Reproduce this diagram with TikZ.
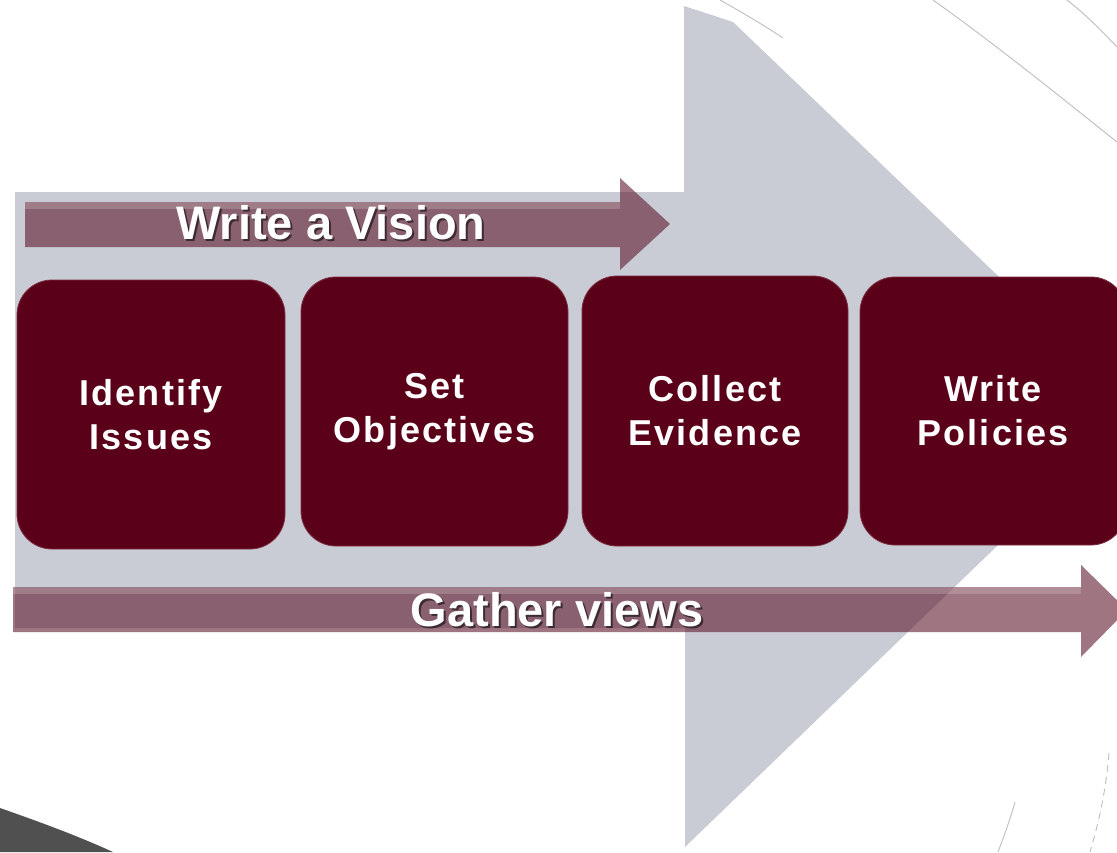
\documentclass[tikz,border=0pt]{standalone}
\usepackage{fontspec}
\setmainfont{Liberation Sans}
\definecolor{greyarrow}{RGB}{201,204,212}
\definecolor{boxred}{RGB}{90,0,24}
\definecolor{boxedge}{RGB}{125,45,65}
\definecolor{arrowmauve}{RGB}{95,25,45}
\definecolor{decoline}{RGB}{190,190,190}
\definecolor{darkwedge}{RGB}{80,80,80}
\tikzset{
  stepbox/.style={fill=boxred, draw=boxedge, line width=0.8pt, rounded corners=35pt,
    inner sep=0pt, text=white, align=center,
    font=\fontsize{36}{44}\selectfont\bfseries\addfontfeature{LetterSpace=6}},
  bandarrow/.style={fill=arrowmauve, fill opacity=0.6},
  bandhi/.style={fill=white, fill opacity=0.18},
  bandtext/.style={text=white, inner sep=0pt, font=\fontsize{47}{50}\selectfont\bfseries},
  bandshadow/.style={text=black, text opacity=0.55, inner sep=0pt, font=\fontsize{47}{50}\selectfont\bfseries},
  deco/.style={draw=decoline, line width=0.9pt}
}
\begin{document}
\begin{tikzpicture}[x=1pt,y=-1pt]
\useasboundingbox (0,0) rectangle (1117,852);
\fill[white] (0,0) rectangle (1117,852);

% big grey arrow
\fill[greyarrow] (15,192) -- (684,192) -- (684,6) -- (733,22) -- (1138,410)
   -- (685,847) -- (685,628) -- (15,628) -- cycle;

% decorative lines
\draw[deco] (720,0) .. controls (745,14) and (765,26) .. (783,38);
\draw[deco] (933,0) .. controls (992,42) and (1052,90) .. (1117,142);
\draw[deco] (1067,0) .. controls (1085,14) and (1101,30) .. (1117,47);
\draw[deco] (1015,802) .. controls (1010,820) and (1004,836) .. (998,852);
\draw[deco, dashed, dash pattern=on 7pt off 5pt] (1109,753) .. controls (1106,790) and (1099,822) .. (1090,852);

% dark wedge bottom-left
\fill[darkwedge] (0,808) .. controls (40,822) and (78,836) .. (113,852) -- (0,852) -- cycle;

% Write a Vision arrow
\fill[bandarrow] (25,202) -- (620,202) -- (620,178) -- (670,224) -- (620,270)
   -- (620,247) -- (25,247) -- cycle;
\fill[bandhi] (25,202) rectangle (620,209);
\node[bandshadow] (visionshadow) at (333,225) {Write a Vision};
\node[bandtext] (vision) at (331,223) {Write a Vision};

% Gather views arrow
\fill[bandarrow] (13,587) -- (1081,587) -- (1081,565) -- (1127,610) -- (1081,657)
   -- (1081,632) -- (13,632) -- cycle;
\fill[bandhi] (13,587) rectangle (1081,594);
\node[bandshadow] (gathershadow) at (559,612) {Gather views};
\node[bandtext] (gather) at (557,610) {Gather views};

% step boxes
\node[stepbox, minimum width=268pt, minimum height=269pt] (issues) at (151,414.5) {Identify\\Issues};
\node[stepbox, minimum width=267pt, minimum height=269pt] (objectives) at (434.5,411.5) {Set\\Objectives};
\node[stepbox, minimum width=266pt, minimum height=270pt] (evidence) at (715,411) {Collect\\Evidence};
\node[stepbox, minimum width=266pt, minimum height=268pt] (policies) at (993,411) {Write\\Policies};
\end{tikzpicture}
\end{document}
